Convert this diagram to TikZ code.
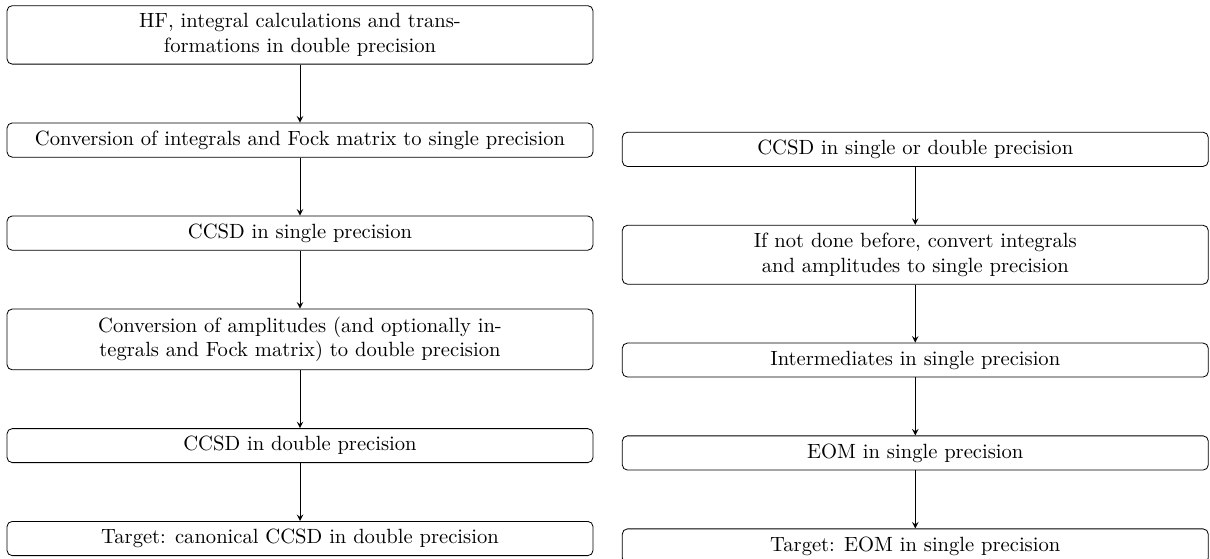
\documentclass[tikz,border=0pt]{standalone}
\usepackage{tikz}
\usetikzlibrary{positioning}

\begin{document}
\begin{tikzpicture}[node distance=0.99cm,
        box/.style={draw, rounded corners=2.5pt, minimum width=10cm, inner ysep=3.75pt, align=center}]
        \useasboundingbox (0,0) rectangle (20.65,-9.54);
        % Left column: canonical CCSD
        \node[box, anchor=north] (hf) at (5.12,-0.09) {HF, integral calculations and trans-\\formations in double precision};
        \node[box, below=of hf] (convint) {Conversion of integrals and Fock matrix to single precision};
        \node[box, below=of convint] (ccsdsp) {CCSD in single precision};
        \node[box, below=of ccsdsp] (convamp) {Conversion of amplitudes (and optionally in-\\tegrals and Fock matrix) to double precision};
        \node[box, below=of convamp] (ccsddp) {CCSD in double precision};
        \node[box, below=of ccsddp] (targetcc) {Target: canonical CCSD in double precision};
        % Right column: EOM
        \node[box, anchor=north] (ccsd) at (15.62,-2.25) {CCSD in single or double precision};
        \node[box, below=of ccsd] (convert) {If not done before, convert integrals\\and amplitudes to single precision};
        \node[box, below=of convert] (interm) {Intermediates in single precision};
        \node[box, below=of interm] (eomsp) {EOM in single precision};
        \node[box, below=of eomsp] (targeteom) {Target: EOM in single precision};
        % Connect the steps
        \foreach \a/\b in {hf/convint, convint/ccsdsp, ccsdsp/convamp, convamp/ccsddp, ccsddp/targetcc,
            ccsd/convert, convert/interm, interm/eomsp, eomsp/targeteom}
            \draw[-stealth] (\a) -- (\b);
    \end{tikzpicture}
\end{document}
